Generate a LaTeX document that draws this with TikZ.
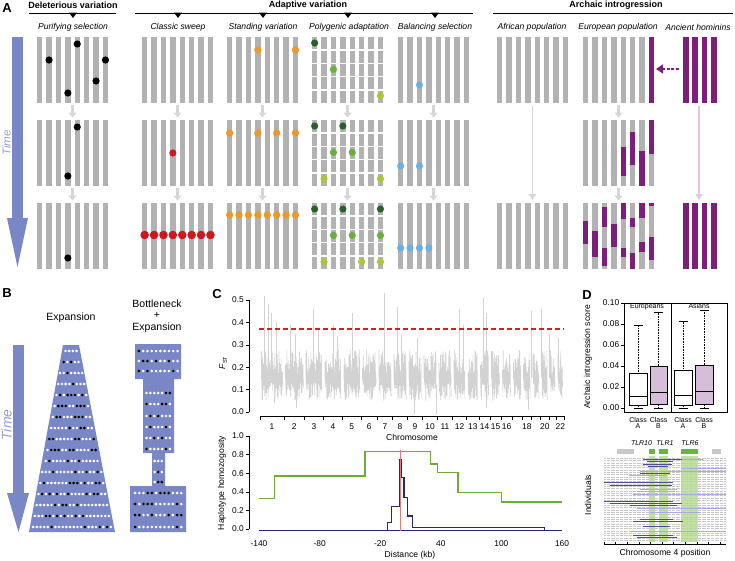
\documentclass[tikz,border=0pt]{standalone}
\usepackage{fontspec}
\setmainfont{Liberation Sans}
\usetikzlibrary{arrows.meta,positioning}
\definecolor{bargray}{RGB}{178,178,178}
\definecolor{timeblue}{RGB}{122,135,198}
\definecolor{timetext}{RGB}{150,160,212}
\definecolor{dotorange}{RGB}{232,154,44}
\definecolor{dotred}{RGB}{208,22,30}
\definecolor{dkgreen}{RGB}{45,95,45}
\definecolor{mdgreen}{RGB}{106,174,62}
\definecolor{ltgreen}{RGB}{170,198,58}
\definecolor{dotblue}{RGB}{106,176,226}
\definecolor{archpurple}{RGB}{125,30,122}
\definecolor{lightpurple}{RGB}{224,200,226}
\definecolor{boxpurple}{RGB}{214,190,218}
\definecolor{fstgray}{RGB}{210,210,210}
\definecolor{fstred}{RGB}{205,35,40}
\definecolor{hhgreen}{RGB}{110,170,60}
\definecolor{hhnavy}{RGB}{40,40,110}
\definecolor{hhred}{RGB}{232,120,120}
\definecolor{hapnavy}{RGB}{78,78,150}
\definecolor{haplav}{RGB}{170,170,220}
\definecolor{tlrband}{RGB}{178,218,145}
\definecolor{genegreen}{RGB}{105,180,70}
\definecolor{genegray}{RGB}{200,200,200}
\definecolor{gridgray}{RGB}{200,200,200}
\definecolor{arrowgray}{RGB}{214,214,214}
\begin{document}
\begin{tikzpicture}[x=1pt, y=-1pt,
  panel/.style    = {font=\fontsize{13}{13}\selectfont\bfseries, inner sep=0pt},
  header/.style   = {font=\fontsize{9}{10}\selectfont\bfseries, inner sep=0pt},
  subhead/.style  = {font=\fontsize{8.6}{10}\selectfont\itshape, inner sep=0pt},
  timelbl/.style  = {font=\fontsize{11.5}{12}\selectfont\itshape, text=timetext, rotate=90, inner sep=0pt},
  poplbl/.style   = {font=\fontsize{10.5}{11.5}\selectfont, align=center, inner sep=0pt},
  plotlbl/.style  = {font=\fontsize{8.6}{10}\selectfont, inner sep=0pt},
  ticklbl/.style  = {font=\fontsize{8.4}{10}\selectfont, inner sep=0pt},
  smalllbl/.style = {font=\fontsize{7}{8}\selectfont, inner sep=0pt},
  genelbl/.style  = {font=\fontsize{7}{8}\selectfont\itshape, inner sep=0pt},
  hdrline/.style  = {line width=0.9pt},
  chrombar/.style = {fill=bargray},
  rowarrow/.style = {-{Triangle[width=8pt,length=5pt]}, line width=3pt, arrowgray},
  longarrow/.style= {-{Triangle[width=7pt,length=6pt]}, line width=1.6pt},
  introarrow/.style={-{Triangle[width=9pt,length=7pt]}, line width=2.2pt, archpurple, dash pattern=on 3pt off 1.6pt},
  axisline/.style = {line width=0.6pt},
  fstline/.style  = {fstgray, line width=0.55pt, line join=bevel},
  hapline/.style  = {line width=0.8pt},
]
\useasboundingbox (0,0) rectangle (735,560);

%% ---- Panel A: headers ----
\node[panel] (lblA) at (7,8) {A};
\node[header] (hdrDel)   at (73,5)  {Deleterious variation};
\node[header] (hdrAdapt) at (308,5) {Adaptive variation};
\node[header] (hdrArch)  at (616,5) {Archaic introgression};
\draw[hdrline] (29,13) -- (116,13);
\draw[hdrline] (135,13) -- (473,13);
\draw[hdrline] (493,13) -- (733,13);
\foreach \x in {73,178,263,348,435}
  \fill (\x-4,12.6) -- (\x+4,12.6) -- (\x,18) -- cycle;

\node[subhead] (subPur)   at (73,27)  {Purifying selection};
\node[subhead] (subSweep) at (178,27) {Classic sweep};
\node[subhead] (subStand) at (263,27) {Standing variation};
\node[subhead] (subPoly)  at (349,27) {Polygenic adaptation};
\node[subhead] (subBal)   at (435,27) {Balancing selection};
\node[subhead] (subAfr)   at (532,27) {African population};
\node[subhead] (subEur)   at (618,27) {European population};
\node[subhead] (subAnc)   at (698,27) {Ancient hominins};

%% ---- Time arrow (A) ----
\fill[timeblue] (12,37) rectangle (23,218);
\fill[timeblue] (7,218) -- (28,218) -- (17.5,267) -- cycle;
\node[timelbl] (timeA) at (6.5,143) {Time};

%% ---- Chromosome bars ----
\foreach \gx in {37,142,227,312,398,583}
  \foreach \gy in {37,120,203}
    \foreach \i in {0,...,7}
      \fill[chrombar] (\gx+9.4*\i,\gy) rectangle ++(5.3,66);
\foreach \gy in {37,203}
  \foreach \i in {0,...,7}
    \fill[chrombar] (497+9.4*\i,\gy) rectangle ++(5.3,66);
\foreach \gy in {37,203}
  \foreach \i in {0,...,3}
    \fill[archpurple] (683+9.4*\i,\gy) rectangle ++(5.5,66);

% polygenic blocks
\foreach \gy in {37,120,203}
  \foreach \k in {1,...,4}
    \draw[white, line width=1.6pt] (310,\gy+13.2*\k) -- (385,\gy+13.2*\k);

% introgressed segments
\foreach \i/\ya/\yb in {7/37/103,
  4/147/176, 5/132/165, 6/151/186, 7/120/154,
  0/221/244, 1/231/257, 2/207/227, 2/248/266, 3/224/247, 4/203/219,
  4/248/257, 5/218/227, 5/253/269, 6/203/218, 6/242/252, 7/203/206, 7/237/260}
  \fill[archpurple] (583+9.4*\i,\ya) rectangle (588.3+9.4*\i,\yb);

%% ---- Variants ----
\foreach \i/\y in {4/44,1/60,7/60,6/81,3/93,4/127,3/176,3/258}
  \fill[black] (39.65+9.4*\i,\y) circle (3.6);
\fill[dotred] (144.65+9.4*3,153) circle (3.6);
\foreach \i in {0,...,7}
  \fill[dotred] (144.65+9.4*\i,235) circle (4.3);
\foreach \i/\y in {3/50,7/50,0/133,3/133,5/133,7/133,0/215,1/215,2/215,3/215,4/215,5/215,6/215,7/215}
  \fill[dotorange] (229.65+9.4*\i,\y) circle (3.7);
\foreach \i/\y/\c in {0/43/dkgreen, 2/69.4/mdgreen, 7/95.8/ltgreen,
  0/126/dkgreen, 3/126/dkgreen, 2/152.4/mdgreen, 4/152.4/mdgreen, 1/178.8/ltgreen, 7/178.8/ltgreen,
  0/209/dkgreen, 3/209/dkgreen, 7/209/dkgreen, 2/235.4/mdgreen, 4/235.4/mdgreen, 7/235.4/mdgreen,
  1/261.8/ltgreen, 5/261.8/ltgreen, 7/261.8/ltgreen}
  \fill[\c] (314.65+9.4*\i,\y) circle (3.6);
\foreach \i/\y in {2/85,0/166,2/166,0/248,1/248,2/248,3/248}
  \fill[dotblue] (400.65+9.4*\i,\y) circle (3.6);

%% ---- Arrows between generations ----
\foreach \x [count=\n] in {72.5,177.5,262.5,347.5,433.5,618.5} {
  \coordinate (gA\n) at (\x,105);  \coordinate (gB\n) at (\x,117.5);
  \coordinate (gC\n) at (\x,188);  \coordinate (gD\n) at (\x,200.5);
  \draw[rowarrow] (gA\n) -- (gB\n);
  \draw[rowarrow] (gC\n) -- (gD\n);
}
\coordinate (afrTop) at (532.5,106);  \coordinate (afrBot) at (532.5,200);
\coordinate (ancTop) at (699,106);    \coordinate (ancBot) at (699,200);
\draw[longarrow, arrowgray] (afrTop) -- (afrBot);
\draw[longarrow, lightpurple] (ancTop) -- (ancBot);
\coordinate (introFrom) at (679,69);  \coordinate (introTo) at (656,69);
\draw[introarrow] (introFrom) -- (introTo);

%% ---- Panel B ----
\node[panel] (lblB) at (7,293) {B};
\node[poplbl] (expLbl) at (71,318) {Expansion};
\node[poplbl] (bottLbl) at (157,316) {Bottleneck\\+\\Expansion};
\fill[timeblue] (13,345) rectangle (24,493);
\fill[timeblue] (7,493) -- (29,493) -- (18.5,532) -- cycle;
\node[timelbl, font=\fontsize{14}{14}\selectfont\itshape] (timeB) at (6.5,425) {Time};

\fill[timeblue] (63,345) -- (79,345) -- (115,532) -- (29,532) -- cycle;
\fill[timeblue] (135,344) -- (181,344) -- (181,379) -- (174,379) -- (174,453) -- (165,453)
  -- (165,486) -- (186,486) -- (186,532) -- (130,532) -- (130,486) -- (152,486)
  -- (152,453) -- (143,453) -- (143,379) -- (135,379) -- cycle;

\pgfmathsetseed{11}
\foreach \r in {0,...,16} {
  \pgfmathsetmacro\yy{351+11*\r}
  \pgfmathsetmacro\xl{63-(\yy-345)*34/187}
  \pgfmathsetmacro\xr{79+(\yy-345)*36/187}
  \pgfmathtruncatemacro\nd{(\xr-\xl-4)/3.7}
  \pgfmathsetmacro\xs{(\xl+\xr)/2-\nd*3.7/2}
  \foreach \k in {0,...,\nd} {
    \pgfmathtruncatemacro\blk{rnd<0.28}
    \ifnum\blk=1 \fill[black] (\xs+\k*3.7,\yy) circle (1.45);
    \else \fill[white] (\xs+\k*3.7,\yy) circle (1.45); \fi
  }
}
\foreach \yy/\nd/\dx in {351/9/4.3, 361/9/4.3, 371/9/4.3,
  393/6/3.9, 404/6/3.9, 416/6/3.9, 427/6/3.9, 438/6/3.9, 449/6/3.9,
  461/2/3.6, 472/2/3.6, 482/2/3.6,
  493/11/4.2, 504/11/4.2, 515/11/4.2, 527/11/4.2} {
  \pgfmathsetmacro\xs{158.2-\nd*\dx/2}
  \foreach \k in {0,...,\nd} {
    \pgfmathtruncatemacro\blk{rnd<0.3}
    \ifnum\blk=1 \fill[black] (\xs+\k*\dx,\yy) circle (1.45);
    \else \fill[white] (\xs+\k*\dx,\yy) circle (1.45); \fi
  }
}

%% ---- Panel C: F_ST ----
\node[panel] (lblC) at (217,294) {C};
\begin{scope}[shift={(0,412)}, y=224pt]
  \pgfmathsetseed{5}
  \foreach \a/\b in {260/284, 284/304.5, 304.5/323.5, 323.5/342.5, 342.5/361, 361/377.5,
    377.5/392.5, 392.5/407.5, 407.5/422.5, 422.5/437.5, 437.5/452.5, 452.5/466.5,
    466.5/479, 479/490, 490/501, 501/512, 512/522, 522/531.5, 531.5/540.5,
    540.5/549, 549/556.5, 556.5/564} {
    \pgfmathtruncatemacro\nn{(\b-\a-3)/0.7}
    \draw[fstline] (\a+1.5,0.15) \foreach \k in {0,...,\nn} {
      -- ({\a+1.5+0.7*\k},{0.17+0.11*rnd}) -- ({\a+1.85+0.7*\k},{0.05+0.08*rnd}) };
  }
  \foreach \xx/\hi in {264/0.52, 268/0.48, 271/0.44, 276/0.40, 290/0.39, 295/0.35,
    313/0.46, 318/0.38, 333/0.39, 337/0.34, 352/0.44, 384/0.53, 397/0.47, 401/0.35,
    417/0.33, 459/0.46, 463/0.39, 483/0.51, 486/0.44, 531/0.45, 541/0.46, 549/0.35, 558/0.33}
    \draw[fstline, line width=0.8pt] (\xx,0.15) -- (\xx,\hi);
  \foreach \xx/\lo in {274/0.04, 296/0.02, 414/-0.01, 436/-0.01, 486/0.02, 528/0.01}
    \draw[fstline, line width=0.8pt] (\xx,\lo) -- (\xx,0.12);
  \draw[fstred, line width=1.5pt, dash pattern=on 5pt off 3pt] (259,0.37) -- (564,0.37);
  \draw[axisline] (249,0) -- (249,0.5);
  \foreach \v in {0,...,5} {
    \draw[axisline] (246,\v/10) -- (249,\v/10);
    \node[ticklbl, anchor=east] (fstTick\v) at (244,\v/10) {0.\v};
  }
\end{scope}
\node[plotlbl, rotate=90] (fstLbl) at (223,363) {\textit{F}\raisebox{-0.4ex}{\fontsize{5.5}{6}\selectfont ST}};
\draw[axisline] (260,416) -- (564,416);
\foreach \a/\b [count=\c] in {260/284, 284/304.5, 304.5/323.5, 323.5/342.5, 342.5/361, 361/377.5,
    377.5/392.5, 392.5/407.5, 407.5/422.5, 422.5/437.5, 437.5/452.5, 452.5/466.5,
    466.5/479, 479/490, 490/501, 501/512, 512/522, 522/531.5, 531.5/540.5,
    540.5/549, 549/556.5, 556.5/564} {
  \draw[axisline] (\a,416) -- (\a,420);
  \ifnum\c<16 \node[ticklbl] (chr\c) at ({(\a+\b)/2},426.5) {\c};
  \else \ifodd\c\relax \else \node[ticklbl] (chr\c) at ({(\a+\b)/2},426.5) {\c}; \fi \fi
}
\draw[axisline] (564,416) -- (564,420);
\node[plotlbl] (chromLbl) at (412,437.5) {Chromosome};

%% ---- Panel C: haplotype homozygosity ----
\draw[axisline] (249,436) -- (249,529);
\foreach \yy/\t [count=\n] in {529/0.0, 510.4/0.2, 491.8/0.4, 473.2/0.6, 454.6/0.8, 436/1.0} {
  \draw[axisline] (246,\yy) -- (249,\yy);
  \node[ticklbl, anchor=east] (hhTick\n) at (244,\yy) {\t};
}
\begin{scope}[shift={(400.4,529)}, x=1.01pt, y=93pt]
  \draw[hhgreen, line width=1.2pt] (-140,0.33) -| (-125,0.57) -| (-35,0.83) -| (30,0.70)
    -| (37,0.61) -| (57,0.39) -| (100,0.29) -- (160,0.29);
  \draw[hhnavy, line width=1pt] (-140,-0.02) -- (160,-0.02);
  \draw[hhnavy, line width=1.2pt] (-140,-0.02) -| (-12.6,0.07) -| (-8.6,0.24) -| (-1.1,0.75)
    -| (1.3,0.55) -| (3.6,0.34) -| (6.8,0.14) -| (11.8,0.02) -| (143,-0.02) -- (160,-0.02);
  \draw[hhred, line width=1pt] (0.5,0.85) -- (0.5,-0.02);
  \foreach \d [count=\n] in {-140,-80,-20,40,100,160}
    \node[ticklbl] (kb\n) at (\d,-0.16) {\d};
\end{scope}
\node[plotlbl, rotate=90] (hhLbl) at (222,483) {Haplotype homozogosity};
\node[plotlbl] (distLbl) at (410,555) {Distance (kb)};

%% ---- Panel D: introgression score ----
\node[panel] (lblD) at (587,295) {D};
\draw[axisline] (624,303) rectangle (727,412);
\draw[axisline] (671,303) -- (671,412);
\foreach \yy/\t [count=\n] in {408/0.00, 387/0.02, 366/0.04, 345/0.06, 324/0.08, 303/0.10} {
  \draw[axisline] (621,\yy) -- (624,\yy);
  \node[ticklbl, anchor=east] (scTick\n) at (619.5,\yy) {\t};
}
\node[smalllbl, anchor=base] (eurLbl) at (647,308.8) {Europeans};
\node[smalllbl, anchor=base] (asiLbl) at (699,308.8) {Asians};
\begin{scope}[shift={(0,408)}, y=1050pt]
  \foreach \xl/\xr/\qa/\qb/\md/\wh/\fc in {629/647/0.003/0.033/0.011/0.079/white,
    650/667/0.004/0.040/0.015/0.091/boxpurple, 674/692/0.003/0.036/0.012/0.083/white,
    695/713/0.004/0.041/0.016/0.093/boxpurple} {
    \pgfmathsetmacro\mx{(\xl+\xr)/2}
    \draw[axisline, densely dotted] (\mx,\qb) -- (\mx,\wh);
    \draw[axisline, densely dotted] (\mx,\qa) -- (\mx,0);
    \draw[axisline] (\mx-4.5,\wh) -- (\mx+4.5,\wh);
    \draw[axisline] (\mx-4.5,0) -- (\mx+4.5,0);
    \draw[axisline, fill=\fc] (\xl,\qa) rectangle (\xr,\qb);
    \draw[line width=1pt] (\xl,\md) -- (\xr,\md);
  }
\end{scope}
\foreach \mx/\c [count=\n] in {638/A, 658.5/B, 683/A, 704/B} {
  \node[smalllbl] (cls\n) at (\mx,420) {Class};
  \node[smalllbl, below=0.6pt of cls\n] (clsLetter\n) {\c};
}
\node[plotlbl, rotate=90] (scLbl) at (588,357) {Archaic introgression score};

%% ---- Panel D: TLR haplotypes ----
\node[genelbl] (tlr10) at (641.5,443) {TLR10};
\node[genelbl] (tlr1)  at (665,443) {TLR1};
\node[genelbl] (tlr6)  at (690,443) {TLR6};
\fill[genegray]  (617,449) rectangle (634,453.5);
\fill[genegreen] (649,449) rectangle (655,453.5);
\fill[genegreen] (659,449) rectangle (668,453.5);
\fill[genegreen] (681,449) rectangle (698,453.5);
\fill[genegray]  (712,449) rectangle (721,453.5);
\foreach \k in {0,...,35}
  \draw[gridgray, line width=0.3pt, dash pattern=on 0.5pt off 0.8pt] (604,458+2.35*\k) -- (726,458+2.35*\k);
\fill[tlrband, opacity=0.8] (649,456) rectangle (655,542);
\fill[tlrband, opacity=0.8] (659,456) rectangle (668,542);
\fill[tlrband, opacity=0.8] (681,456) rectangle (698,542);
\foreach \yy/\xa/\xb/\c in {459.5/643/703/hapnavy, 459.5/682/703/haplav, 461.8/647/673/hapnavy,
  464.1/643/672/hapnavy, 466.4/648/668/hapnavy, 468.7/682/726/haplav, 471/640/726/haplav,
  473.3/640/670/hapnavy, 475.6/629/667/haplav, 482.6/604/673/hapnavy, 484.9/610/672/hapnavy,
  489.5/640/677/haplav, 491.8/637/675/haplav, 494.1/633/726/haplav, 501/604/673/hapnavy,
  503.3/610/682/hapnavy, 505.6/630/677/hapnavy, 507.9/637/726/haplav, 512.5/650/700/haplav,
  519.4/640/673/hapnavy, 521.7/633/683/hapnavy, 526.3/643/670/hapnavy, 530.9/630/726/haplav,
  535.5/633/673/hapnavy, 537.8/637/677/hapnavy}
  \draw[hapline, \c] (\xa,\yy) -- (\xb,\yy);
\draw[axisline] (604,544) -- (726,544);
\foreach \k in {0,...,10}
  \draw[axisline] (604+11.6*\k,544) -- (604+11.6*\k,541.5);
\node[plotlbl] (posLbl) at (665,553) {Chromosome 4 position};
\node[plotlbl, rotate=90] (indLbl) at (588,495) {Individuals};

\end{tikzpicture}
\end{document}
